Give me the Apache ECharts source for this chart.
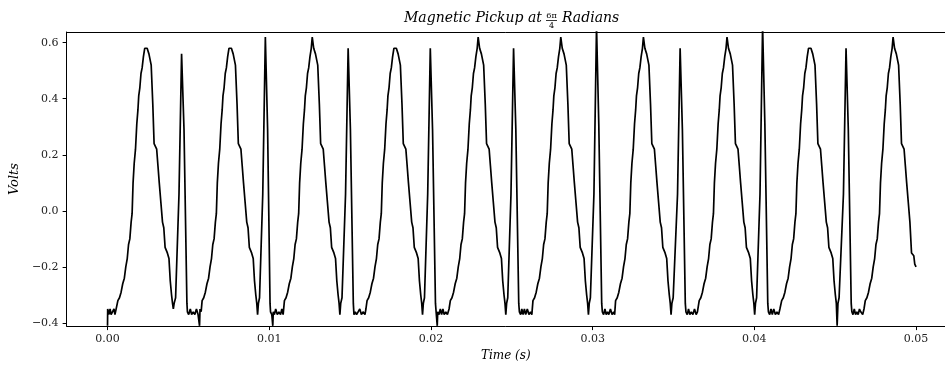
<!DOCTYPE html>
<html>
<head>
<meta charset="utf-8">
<script src="https://cdn.jsdelivr.net/npm/echarts@6/dist/echarts.min.js"></script>
<style>
html,body{margin:0;padding:0;background:#fff;}
#chart{width:945px;height:367px;}
</style>
</head>
<body>
<div id="chart"></div>
<script>
// Time in milliseconds, voltage in volts (one array per cycle)
const cycle01 = [[0.00,-0.41],[0.01,-0.35],[0.08,-0.37],[0.16,-0.35],[0.22,-0.37],[0.34,-0.37],[0.40,-0.35],[0.46,-0.37],[0.58,-0.37],
[0.64,-0.32],[0.74,-0.31],[0.84,-0.29],[0.94,-0.26],[1.04,-0.24],[1.13,-0.20],[1.22,-0.17],[1.30,-0.12],[1.38,-0.10],[1.46,-0.04],[1.52,-0.01],[1.58,0.10],[1.65,0.17],[1.73,0.22],[1.81,0.31],[1.88,0.36],[1.93,0.41],[2.00,0.44],[2.07,0.49],[2.14,0.51],[2.22,0.55],[2.30,0.58],[2.36,0.58],[2.45,0.58],[2.56,0.56],[2.70,0.52],[2.80,0.38],[2.88,0.24],[3.04,0.22],[3.12,0.16],[3.20,0.10],[3.30,0.03],[3.40,-0.04],[3.48,-0.06],[3.56,-0.13],[3.70,-0.15],[3.80,-0.17],[3.88,-0.25],[3.96,-0.30],
[4.02,-0.33],[4.07,-0.35],[4.12,-0.33],[4.21,-0.31],[4.42,0.06],[4.58,0.56],[4.73,0.29],[4.91,-0.33],[4.94,-0.36],
[5.02,-0.37],[5.12,-0.35],[5.20,-0.37],[5.30,-0.36],[5.40,-0.37],[5.50,-0.35],[5.60,-0.37],[5.66,-0.37],[5.69,-0.41],[5.72,-0.35],[5.79,-0.36]];

const cycle02 = [[5.85,-0.32],[5.95,-0.31],[6.05,-0.29],[6.15,-0.26],[6.25,-0.24],[6.34,-0.20],[6.43,-0.17],[6.51,-0.12],[6.59,-0.10],[6.67,-0.04],[6.73,-0.01],[6.79,0.10],[6.86,0.17],[6.94,0.22],[7.02,0.31],[7.09,0.36],[7.14,0.41],[7.21,0.44],[7.28,0.49],[7.35,0.51],[7.43,0.55],[7.51,0.58],[7.57,0.58],[7.66,0.58],[7.77,0.56],[7.91,0.52],[8.01,0.38],[8.09,0.24],[8.25,0.22],[8.33,0.16],[8.41,0.10],[8.51,0.03],[8.61,-0.04],[8.69,-0.06],[8.77,-0.13],[8.91,-0.15],[9.01,-0.17],[9.09,-0.25],[9.17,-0.30],
[9.23,-0.33],[9.28,-0.37],[9.33,-0.33],[9.40,-0.31],[9.60,0.06],[9.76,0.62],[9.90,0.29],[10.05,-0.33],[10.08,-0.36],
[10.16,-0.37],[10.22,-0.41],[10.25,-0.36],[10.32,-0.37],[10.40,-0.35],[10.50,-0.37],[10.60,-0.36],[10.70,-0.37],[10.78,-0.35],[10.86,-0.37]];

const cycle03 = [[10.94,-0.32],[11.04,-0.31],[11.14,-0.29],[11.24,-0.26],[11.34,-0.24],[11.43,-0.20],[11.52,-0.17],[11.60,-0.12],[11.68,-0.10],[11.76,-0.04],[11.82,-0.01],[11.88,0.10],[11.95,0.17],[12.03,0.22],[12.11,0.31],[12.18,0.36],[12.23,0.41],[12.30,0.44],[12.37,0.49],[12.44,0.51],[12.52,0.55],[12.60,0.58],[12.66,0.62],[12.75,0.58],[12.86,0.56],[13.00,0.52],[13.10,0.38],[13.18,0.24],[13.34,0.22],[13.42,0.16],[13.50,0.10],[13.60,0.03],[13.70,-0.04],[13.78,-0.06],[13.86,-0.13],[14.00,-0.15],[14.10,-0.17],[14.18,-0.25],[14.26,-0.30],
[14.32,-0.33],[14.37,-0.37],[14.42,-0.33],[14.50,-0.31],[14.72,0.06],[14.88,0.58],[15.02,0.29],[15.20,-0.33],[15.24,-0.37],
[15.32,-0.36],[15.40,-0.37],[15.50,-0.37],[15.60,-0.35],[15.70,-0.37],[15.80,-0.36],[15.92,-0.37],[15.98,-0.35]];

const cycle04 = [[16.05,-0.32],[16.15,-0.31],[16.25,-0.29],[16.35,-0.26],[16.45,-0.24],[16.54,-0.20],[16.63,-0.17],[16.71,-0.12],[16.79,-0.10],[16.87,-0.04],[16.93,-0.01],[16.99,0.10],[17.06,0.17],[17.14,0.22],[17.22,0.31],[17.29,0.36],[17.34,0.41],[17.41,0.44],[17.48,0.49],[17.55,0.51],[17.63,0.55],[17.71,0.58],[17.77,0.58],[17.86,0.58],[17.97,0.56],[18.11,0.52],[18.21,0.38],[18.29,0.24],[18.45,0.22],[18.53,0.16],[18.61,0.10],[18.71,0.03],[18.81,-0.04],[18.89,-0.06],[18.97,-0.13],[19.11,-0.15],[19.21,-0.17],[19.29,-0.25],[19.37,-0.30],
[19.43,-0.33],[19.48,-0.37],[19.53,-0.33],[19.60,-0.31],[19.80,0.06],[19.96,0.58],[20.10,0.29],[20.28,-0.33],[20.32,-0.36],[20.39,-0.41],[20.42,-0.36],
[20.50,-0.37],[20.58,-0.35],[20.66,-0.37],[20.74,-0.35],[20.82,-0.37],[20.92,-0.36],[21.02,-0.37],[21.12,-0.35]];

const cycle05 = [[21.20,-0.32],[21.30,-0.31],[21.40,-0.29],[21.50,-0.26],[21.60,-0.24],[21.69,-0.20],[21.78,-0.17],[21.86,-0.12],[21.94,-0.10],[22.02,-0.04],[22.08,-0.01],[22.14,0.10],[22.21,0.17],[22.29,0.22],[22.37,0.31],[22.44,0.36],[22.49,0.41],[22.56,0.44],[22.63,0.49],[22.70,0.51],[22.78,0.55],[22.86,0.58],[22.92,0.62],[23.01,0.58],[23.12,0.56],[23.26,0.52],[23.36,0.38],[23.44,0.24],[23.60,0.22],[23.68,0.16],[23.76,0.10],[23.86,0.03],[23.96,-0.04],[24.04,-0.06],[24.12,-0.13],[24.26,-0.15],[24.36,-0.17],[24.44,-0.25],[24.52,-0.30],
[24.58,-0.33],[24.63,-0.37],[24.68,-0.33],[24.75,-0.31],[24.95,0.06],[25.11,0.58],[25.25,0.29],[25.43,-0.33],[25.47,-0.36],
[25.55,-0.37],[25.62,-0.35],[25.70,-0.37],[25.78,-0.35],[25.86,-0.37],[25.96,-0.35],[26.06,-0.37],[26.16,-0.36],[26.24,-0.37]];

const cycle06 = [[26.31,-0.32],[26.41,-0.31],[26.51,-0.29],[26.61,-0.26],[26.71,-0.24],[26.80,-0.20],[26.89,-0.17],[26.97,-0.12],[27.05,-0.10],[27.13,-0.04],[27.19,-0.01],[27.25,0.10],[27.32,0.17],[27.40,0.22],[27.48,0.31],[27.55,0.36],[27.60,0.41],[27.67,0.44],[27.74,0.49],[27.81,0.51],[27.89,0.55],[27.97,0.58],[28.03,0.62],[28.12,0.58],[28.23,0.56],[28.37,0.52],[28.47,0.38],[28.55,0.24],[28.71,0.22],[28.79,0.16],[28.87,0.10],[28.97,0.03],[29.07,-0.04],[29.15,-0.06],[29.23,-0.13],[29.37,-0.15],[29.47,-0.17],[29.55,-0.25],[29.63,-0.30],
[29.69,-0.33],[29.74,-0.37],[29.79,-0.33],[29.86,-0.31],[30.08,0.06],[30.24,0.66],[30.38,0.31],[30.56,-0.33],[30.60,-0.36],
[30.68,-0.37],[30.76,-0.35],[30.84,-0.37],[30.92,-0.36],[31.00,-0.37],[31.10,-0.35],[31.20,-0.37],[31.30,-0.36],[31.36,-0.37]];

const cycle07 = [[31.42,-0.32],[31.52,-0.31],[31.62,-0.29],[31.72,-0.26],[31.82,-0.24],[31.91,-0.20],[32.00,-0.17],[32.08,-0.12],[32.16,-0.10],[32.24,-0.04],[32.30,-0.01],[32.36,0.10],[32.43,0.17],[32.51,0.22],[32.59,0.31],[32.66,0.36],[32.71,0.41],[32.78,0.44],[32.85,0.49],[32.92,0.51],[33.00,0.55],[33.08,0.58],[33.14,0.62],[33.23,0.58],[33.34,0.56],[33.48,0.52],[33.58,0.38],[33.66,0.24],[33.82,0.22],[33.90,0.16],[33.98,0.10],[34.08,0.03],[34.18,-0.04],[34.26,-0.06],[34.34,-0.13],[34.48,-0.15],[34.58,-0.17],[34.66,-0.25],[34.74,-0.30],
[34.80,-0.33],[34.85,-0.37],[34.90,-0.33],[34.98,-0.31],[35.25,0.06],[35.41,0.58],[35.55,0.29],[35.73,-0.33],[35.77,-0.36],
[35.85,-0.37],[35.93,-0.35],[36.01,-0.37],[36.10,-0.36],[36.20,-0.37],[36.30,-0.35],[36.40,-0.37],[36.48,-0.36]];

const cycle08 = [[36.59,-0.32],[36.69,-0.31],[36.79,-0.29],[36.89,-0.26],[36.99,-0.24],[37.08,-0.20],[37.17,-0.17],[37.25,-0.12],[37.33,-0.10],[37.41,-0.04],[37.47,-0.01],[37.53,0.10],[37.60,0.17],[37.68,0.22],[37.76,0.31],[37.83,0.36],[37.88,0.41],[37.95,0.44],[38.02,0.49],[38.09,0.51],[38.17,0.55],[38.25,0.58],[38.31,0.62],[38.40,0.58],[38.51,0.56],[38.65,0.52],[38.75,0.38],[38.83,0.24],[38.99,0.22],[39.07,0.16],[39.15,0.10],[39.25,0.03],[39.35,-0.04],[39.43,-0.06],[39.51,-0.13],[39.65,-0.15],[39.75,-0.17],[39.83,-0.25],[39.91,-0.30],
[39.97,-0.33],[40.02,-0.37],[40.07,-0.33],[40.14,-0.31],[40.35,0.06],[40.51,0.66],[40.65,0.31],[40.83,-0.33],[40.87,-0.36],
[40.95,-0.37],[41.03,-0.35],[41.11,-0.37],[41.20,-0.35],[41.30,-0.37],[41.40,-0.36],[41.50,-0.37],[41.58,-0.35]];

const cycle09 = [[41.69,-0.32],[41.79,-0.31],[41.89,-0.29],[41.99,-0.26],[42.09,-0.24],[42.18,-0.20],[42.27,-0.17],[42.35,-0.12],[42.43,-0.10],[42.51,-0.04],[42.57,-0.01],[42.63,0.10],[42.70,0.17],[42.78,0.22],[42.86,0.31],[42.93,0.36],[42.98,0.41],[43.05,0.44],[43.12,0.49],[43.19,0.51],[43.27,0.55],[43.35,0.58],[43.41,0.58],[43.50,0.58],[43.61,0.56],[43.75,0.52],[43.85,0.38],[43.93,0.24],[44.09,0.22],[44.17,0.16],[44.25,0.10],[44.35,0.03],[44.45,-0.04],[44.53,-0.06],[44.61,-0.13],[44.75,-0.15],[44.85,-0.17],[44.93,-0.25],[45.01,-0.30],
[45.07,-0.33],[45.12,-0.41],[45.17,-0.33],[45.24,-0.31],[45.51,0.06],[45.67,0.58],[45.81,0.29],[45.99,-0.33],[46.03,-0.36],
[46.10,-0.37],[46.18,-0.35],[46.26,-0.37],[46.34,-0.36],[46.42,-0.37],[46.50,-0.35],[46.58,-0.36],[46.70,-0.37],[46.78,-0.35]];

const cycle10 = [[46.86,-0.32],[46.96,-0.31],[47.06,-0.29],[47.16,-0.26],[47.26,-0.24],[47.35,-0.20],[47.44,-0.17],[47.52,-0.12],[47.60,-0.10],[47.68,-0.04],[47.74,-0.01],[47.80,0.10],[47.87,0.17],[47.95,0.22],[48.03,0.31],[48.10,0.36],[48.15,0.41],[48.22,0.44],[48.29,0.49],[48.36,0.51],[48.44,0.55],[48.52,0.58],[48.58,0.62],[48.67,0.58],[48.78,0.56],[48.92,0.52],[49.02,0.38],[49.10,0.24],[49.26,0.22],[49.34,0.16],[49.42,0.10],[49.52,0.03],[49.62,-0.04],[49.72,-0.15],[49.86,-0.16],[49.92,-0.19],[50.00,-0.20]];

const xTickValues = [0, 0.01, 0.02, 0.03, 0.04, 0.05];
const yTickValues = [-0.4, -0.2, 0.0, 0.2, 0.4, 0.6];
const titleMain = 'Magnetic Pickup at';
const titleNum = '6π';
const titleDen = '4';
const titleTail = 'Radians';
const xName = 'Time (s)';
const yName = 'Volts';

const cycles = [cycle01, cycle02, cycle03, cycle04, cycle05, cycle06, cycle07, cycle08, cycle09, cycle10];
const seriesData = [];
cycles.forEach(c => c.forEach(p => seriesData.push([p[0] / 1000, p[1]])));

const chart = echarts.init(document.getElementById('chart'), null, {renderer: 'canvas'});
const tickFont = 'DejaVu Serif';
const mathFont = 'DejaVu Serif';
const X_MIN = -0.00253, X_MAX = 0.05179;
const frameLine = {show: true, onZero: false, lineStyle: {color: '#000', width: 1}};

chart.setOption({
  animation: false,
  backgroundColor: '#ffffff',
  grid: {left: 64, top: 32, bottom: 39, right: 0, show: false},
  xAxis: [{
    type: 'value', min: X_MIN, max: X_MAX, position: 'bottom',
    name: xName, nameLocation: 'middle', nameGap: 19,
    nameTextStyle: {fontFamily: mathFont, fontStyle: 'italic', fontSize: 12, color: '#000'},
    axisLine: frameLine,
    splitLine: {show: false},
    axisTick: {show: true, inside: false, length: 4, customValues: xTickValues, lineStyle: {color: '#000', width: 1}},
    axisLabel: {customValues: xTickValues, margin: 8, fontFamily: tickFont, fontSize: 11, color: '#222',
      formatter: v => v.toFixed(2)}
  }, {
    type: 'value', min: X_MIN, max: X_MAX, position: 'top',
    axisLine: frameLine, axisTick: {show: false}, axisLabel: {show: false}, splitLine: {show: false}
  }],
  yAxis: {
    type: 'value', min: -0.411, max: 0.638, position: 'left',
    name: yName, nameLocation: 'middle', nameGap: 42, nameRotate: 90,
    nameTextStyle: {fontFamily: mathFont, fontStyle: 'italic', fontSize: 13, color: '#000'},
    axisLine: frameLine,
    splitLine: {show: false},
    axisTick: {show: true, inside: false, length: 4, customValues: yTickValues, lineStyle: {color: '#000', width: 1}},
    axisLabel: {customValues: yTickValues, margin: 8, fontFamily: tickFont, fontSize: 11, color: '#222',
      formatter: v => (v < -1e-9 ? '\u2212' : '') + Math.abs(v).toFixed(1)}
  },
  series: [{
    type: 'line', xAxisIndex: 0, data: seriesData, showSymbol: false, symbol: 'none',
    lineStyle: {color: '#000', width: 1.7}, clip: true
  }],
  graphic: [
    {type: 'text', x: 542, y: 18, style: {text: titleMain, textAlign: 'right', textVerticalAlign: 'middle',
      font: 'italic 14px "DejaVu Serif"', fill: '#000'}},
    {type: 'text', x: 551.5, y: 15.5, style: {text: titleNum, textAlign: 'center', textVerticalAlign: 'middle',
      font: '8px "DejaVu Serif"', fill: '#000'}},
    {type: 'line', shape: {x1: 546, y1: 20.5, x2: 557, y2: 20.5}, style: {stroke: '#000', lineWidth: 0.8}},
    {type: 'text', x: 551.5, y: 26, style: {text: titleDen, textAlign: 'center', textVerticalAlign: 'middle',
      font: '8px "DejaVu Serif"', fill: '#000'}},
    {type: 'text', x: 562, y: 18, style: {text: titleTail, textAlign: 'left', textVerticalAlign: 'middle',
      font: 'italic 14px "DejaVu Serif"', fill: '#000'}}
  ]
});
</script>
</body>
</html>
